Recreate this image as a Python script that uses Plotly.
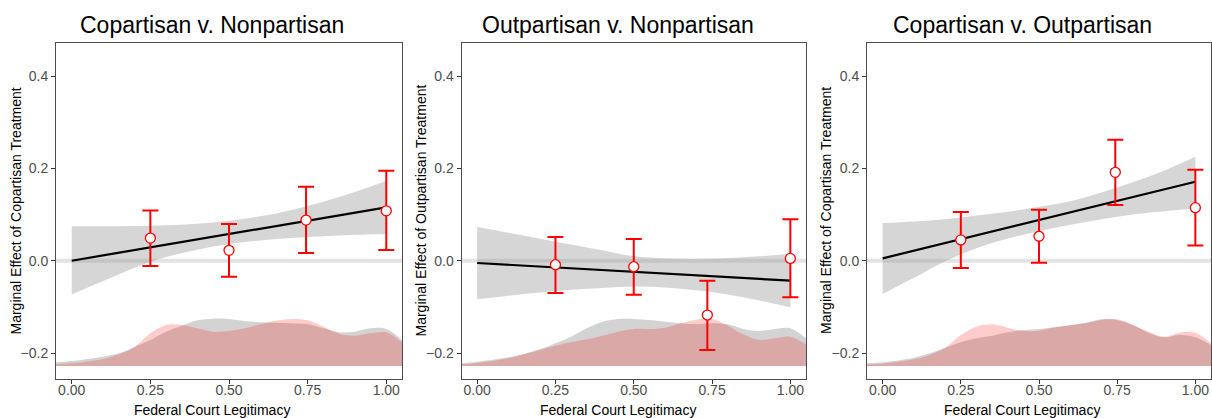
import plotly.graph_objects as go

W, H = 1212, 418

# ---------------- data ----------------
TITLES = ["Copartisan v. Nonpartisan", "Outpartisan v. Nonpartisan", "Copartisan v. Outpartisan"]
Y_LABELS = ["Marginal Effect of Copartisan Treatment",
            "Marginal Effect of Outpartisan Treatment",
            "Marginal Effect of Copartisan Treatment"]
X_LABEL = "Federal Court Legitimacy"
X_TICKS = [0.0, 0.25, 0.5, 0.75, 1.0]
Y_TICKS = [-0.2, 0.0, 0.2, 0.4]

# density curves of the moderator (drawn in data units of the y axis)
DENS_X = [-0.05, 0.0, 0.1, 0.15, 0.2, 0.25, 0.3, 0.35, 0.4, 0.45, 0.5,
          0.55, 0.6, 0.65, 0.7, 0.75, 0.8, 0.85, 0.9, 0.95, 1.0, 1.05]
DENS_BASE = -0.228
grey_dens_1 = [-0.2202, -0.2173, -0.2079, -0.2007, -0.1870, -0.1718, -0.1538, -0.1408, -0.1292, -0.1256, -0.1263,
               -0.1306, -0.1335, -0.1343, -0.1357, -0.1379, -0.1465, -0.1552, -0.1538, -0.1465, -0.1480, -0.1718]
pink_dens_1 = [-0.2246, -0.2224, -0.2130, -0.2029, -0.1870, -0.1574, -0.1393, -0.1393, -0.1465, -0.1538, -0.1523,
               -0.1465, -0.1379, -0.1299, -0.1263, -0.1292, -0.1429, -0.1581, -0.1624, -0.1574, -0.1552, -0.1769]
grey_dens_2 = [-0.2224, -0.2188, -0.2094, -0.2014, -0.1921, -0.1790, -0.1646, -0.1465, -0.1321, -0.1263, -0.1263,
               -0.1285, -0.1321, -0.1357, -0.1379, -0.1357, -0.1379, -0.1480, -0.1523, -0.1480, -0.1465, -0.1682]
pink_dens_2 = [-0.2246, -0.2217, -0.2115, -0.2029, -0.1935, -0.1841, -0.1769, -0.1704, -0.1624, -0.1538, -0.1480,
               -0.1480, -0.1451, -0.1357, -0.1277, -0.1263, -0.1408, -0.1596, -0.1718, -0.1682, -0.1646, -0.1812]
grey_dens_3 = [-0.2224, -0.2202, -0.2101, -0.2007, -0.1885, -0.1769, -0.1682, -0.1624, -0.1552, -0.1502, -0.1480,
               -0.1444, -0.1393, -0.1343, -0.1270, -0.1285, -0.1393, -0.1559, -0.1660, -0.1610, -0.1660, -0.1827]
pink_dens_3 = [-0.2246, -0.2231, -0.2137, -0.2043, -0.1885, -0.1610, -0.1429, -0.1379, -0.1451, -0.1523, -0.1516,
               -0.1444, -0.1400, -0.1357, -0.1285, -0.1270, -0.1393, -0.1538, -0.1646, -0.1559, -0.1559, -0.1790]

# linear fit and its confidence band
FIT_X = [0.0, 0.1, 0.2, 0.3, 0.4, 0.5, 0.6, 0.7, 0.8, 0.9, 1.0]
fit_1 = [0.0, 0.1157]
fit_2 = [-0.005, -0.0433]
fit_3 = [0.0051, 0.171]
band_hi_1 = [0.0745, 0.0745, 0.0751, 0.0766, 0.0802, 0.0867, 0.0961, 0.1098, 0.1278, 0.1488, 0.1726]
band_lo_1 = [-0.073, -0.044, -0.015, 0.008, 0.024, 0.036, 0.044, 0.049, 0.053, 0.056, 0.058]
band_hi_2 = [0.0737, 0.0607, 0.0477, 0.035, 0.0224, 0.0094, 0.0051, 0.0043, 0.0058, 0.0094, 0.0144]
band_lo_2 = [-0.0837, -0.076, -0.069, -0.063, -0.059, -0.056, -0.058, -0.064, -0.073, -0.086, -0.101]
band_hi_3 = [0.0815, 0.085, 0.090, 0.098, 0.106, 0.117, 0.129, 0.148, 0.170, 0.195, 0.225]
band_lo_3 = [-0.072, -0.037, -0.001, 0.027, 0.048, 0.064, 0.078, 0.090, 0.100, 0.107, 0.113]

# binned estimates
bin_x_1 = [0.25, 0.5, 0.745, 1.0]
est_1 = [0.049, 0.0224, 0.088, 0.108]
lo_1 = [-0.0116, -0.0347, 0.0166, 0.0231]
hi_1 = [0.109, 0.0795, 0.160, 0.195]
bin_x_2 = [0.25, 0.5, 0.735, 1.0]
est_2 = [-0.0087, -0.013, -0.1177, 0.005]
lo_2 = [-0.070, -0.0737, -0.1935, -0.0794]
hi_2 = [0.0513, 0.047, -0.0433, 0.0896]
bin_x_3 = [0.25, 0.5, 0.744, 1.0]
est_3 = [0.045, 0.053, 0.1914, 0.115]
lo_3 = [-0.016, -0.0044, 0.1208, 0.0328]
hi_3 = [0.1055, 0.1106, 0.262, 0.197]

PANELS = [
    dict(grey=grey_dens_1, pink=pink_dens_1, fit=fit_1, hi=band_hi_1, lo=band_lo_1,
         bx=bin_x_1, est=est_1, elo=lo_1, ehi=hi_1),
    dict(grey=grey_dens_2, pink=pink_dens_2, fit=fit_2, hi=band_hi_2, lo=band_lo_2,
         bx=bin_x_2, est=est_2, elo=lo_2, ehi=hi_2),
    dict(grey=grey_dens_3, pink=pink_dens_3, fit=fit_3, hi=band_hi_3, lo=band_lo_3,
         bx=bin_x_3, est=est_3, elo=lo_3, ehi=hi_3),
]

# ---------------- layout geometry (pixels) ----------------
PANEL_PX = [(56, 402), (461.5, 806), (867, 1211)]
TOP_PX, BOT_PX = 43, 379
TITLE_CX = [212, 617.5, 1022]
YLAB_CX = [15.5, 420.5, 826]
X_RANGE = [-0.05, 1.05]
Y_RANGE = [-0.2563, 0.4717]

FONT = "Liberation Sans, Arial, sans-serif"

fig = go.Figure()
layout = dict(
    width=W, height=H, margin=dict(l=0, r=0, t=0, b=0),
    paper_bgcolor="white", plot_bgcolor="white", showlegend=False,
    font=dict(family=FONT, size=14, color="black"),
)
annotations = []
shapes = []

for i, p in enumerate(PANELS):
    sfx = "" if i == 0 else str(i + 1)
    xa, ya = "x" + sfx, "y" + sfx
    x0, x1 = PANEL_PX[i]
    layout["xaxis" + sfx] = dict(
        domain=[x0 / W, x1 / W], range=X_RANGE, anchor=ya,
        tickvals=X_TICKS, tickformat=".2f", ticks="outside", ticklen=4, tickwidth=1,
        tickcolor="#333333", showline=True, linecolor="#4d4d4d", linewidth=1, mirror=True,
        showgrid=False, zeroline=False, tickfont=dict(size=14, color="#4d4d4d"),
        ticklabelstandoff=-6,
    )
    layout["yaxis" + sfx] = dict(
        domain=[1 - BOT_PX / H, 1 - TOP_PX / H], range=Y_RANGE, anchor=xa,
        tickvals=Y_TICKS, tickformat=".1f", ticks="outside", ticklen=4, tickwidth=1,
        tickcolor="#333333", showline=True, linecolor="#4d4d4d", linewidth=1, mirror=True,
        showgrid=False, zeroline=False, tickfont=dict(size=14, color="#4d4d4d"),
    )
    # zero reference line
    shapes.append(dict(type="line", xref=xa + " domain", yref=ya, x0=0, x1=1, y0=0, y1=0,
                       line=dict(color="#e3e3e3", width=4), layer="below"))

    # densities
    for key, col in (("grey", "rgba(150,150,150,0.42)"), ("pink", "rgba(255,0,0,0.2)")):
        fig.add_trace(go.Scatter(x=DENS_X, y=[DENS_BASE] * len(DENS_X), mode="lines",
                                 line=dict(width=0), xaxis=xa, yaxis=ya, hoverinfo="skip"))
        fig.add_trace(go.Scatter(x=DENS_X, y=p[key], mode="lines", fill="tonexty",
                                 fillcolor=col, line=dict(width=0, shape="spline", smoothing=1),
                                 xaxis=xa, yaxis=ya, hoverinfo="skip"))

    # confidence band
    fig.add_trace(go.Scatter(x=FIT_X, y=p["lo"], mode="lines", line=dict(width=0, shape="spline"),
                             xaxis=xa, yaxis=ya, hoverinfo="skip"))
    fig.add_trace(go.Scatter(x=FIT_X, y=p["hi"], mode="lines", fill="tonexty",
                             fillcolor="rgba(153,153,153,0.4)", line=dict(width=0, shape="spline"),
                             xaxis=xa, yaxis=ya, hoverinfo="skip"))
    # fit line
    fig.add_trace(go.Scatter(x=[FIT_X[0], FIT_X[-1]], y=p["fit"], mode="lines",
                             line=dict(color="black", width=2.2), xaxis=xa, yaxis=ya))
    # binned estimates
    fig.add_trace(go.Scatter(
        x=p["bx"], y=p["est"], mode="markers", xaxis=xa, yaxis=ya,
        marker=dict(symbol="circle", size=10, color="white", line=dict(color="red", width=1.3)),
        error_y=dict(type="data", symmetric=False,
                     array=[h - e for h, e in zip(p["ehi"], p["est"])],
                     arrayminus=[e - l for e, l in zip(p["est"], p["elo"])],
                     color="red", thickness=2, width=8),
    ))

    # titles and axis labels
    annotations.append(dict(text=TITLES[i], x=TITLE_CX[i] / W, y=1 - 25 / H, xref="paper", yref="paper",
                            xanchor="center", yanchor="middle", showarrow=False,
                            font=dict(size=23, color="black")))
    annotations.append(dict(text=Y_LABELS[i], x=YLAB_CX[i] / W, y=1 - 211 / H, xref="paper", yref="paper",
                            xanchor="center", yanchor="middle", textangle=-90, showarrow=False,
                            font=dict(size=14, color="black")))
    annotations.append(dict(text=X_LABEL, x=TITLE_CX[i] / W, y=1 - 410 / H, xref="paper", yref="paper",
                            xanchor="center", yanchor="middle", showarrow=False,
                            font=dict(size=14, color="black")))

layout["annotations"] = annotations
layout["shapes"] = shapes
fig.update_layout(**layout)
fig.write_html("out.html")
